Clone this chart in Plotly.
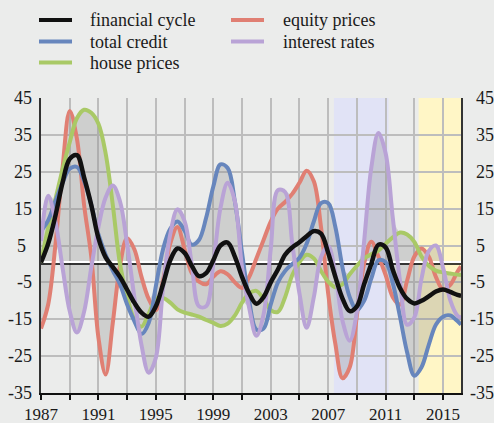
import plotly.graph_objects as go
import numpy as np

years = [1987 + 0.5 * i for i in range(59)] + [2016.25]

financial_cycle = [0.4, 5.5, 13, 22, 28.5, 29.5, 23.5, 16, 7, 1.8,
                   -0.8, -3.5, -7, -10.5, -13.2, -14.3, -11.5, -5.5, 1, 4.2,
                   3, -0.5, -3.3, -2.5, 1, 5, 5.8, 2, -3.5, -8,
                   -10.8, -9, -5, -1.5, 2.5, 4.5, 5.9, 7.5, 8.9, 8.2,
                   3, -3.5, -9.4, -12.8, -11.5, -5.5, 0, 5.2, 4.5, -1.6,
                   -6.5, -9.5, -10.7, -10, -8.8, -7.5, -6.9, -7.6, -8.4, -8.6]

total_credit = [8.9, 11.8, 17, 22, 25.8, 26.3, 22.5, 16, 8, 2.5,
                -1.8, -5.5, -11, -15.5, -19, -16, -6, 4, 9.5, 11.5,
                9, 5.2, 6.5, 12.5, 21, 27, 26, 17, 3, -10,
                -17.8, -17.5, -11, -5, -1.9, 0, 1.7, 5.5, 11.5, 16.5,
                16.5, 10, -1, -9, -12.5, -10, -4, 1, 0.5, -5.2,
                -14.3, -24, -30.3, -28, -22, -16.5, -14.3, -14, -15.5, -16.5]

house_prices = [0.3, 9.8, 17.5, 25.6, 33, 39.5, 41.8, 41, 38, 30,
                16, 0, -9, -15, -17, -13.5, -9.5, -9.2, -10.5, -12.3,
                -13.2, -13.7, -14.3, -15.2, -16, -16.8, -16.2, -14, -10.5, -8,
                -7.3, -9.5, -12.5, -13, -9, -3, 0.5, 2.5, 1.5, -1.9,
                -4.8, -6.3, -5.5, -2.8, -0.5, 1.5, 2.6, 3.6, 5.5, 7.2,
                8.5, 8, 6, 2, -0.5, -1.8, -2.3, -2.6, -2.9, -3]

equity_prices = [-17.5, -11, 5, 26, 41.5, 34, 16, 2, -20, -30,
                 -16, -0.5, 7, 4, -3.5, -9.5, -12.5, -4.5, 5.5, 10,
                 4, -2.5, -4.8, -5.5, -3.5, -2, -2.8, -5, -6.5, -3.5,
                 1.5, 6.5, 11.5, 15, 16.8, 19, 22, 25.3, 22.4, 10,
                 -8, -21.7, -31, -28, -14, 0, 6, 2, -3, -9,
                 -11, -4.5, 2, 4.2, 2, -3.5, -7, -5.7, -2.1, -0.7]

interest_rates = [6.2, 18.5, 11.6, -1, -12.8, -18.6, -13, -1, 10, 18,
                  21.3, 17, 5.3, -9, -22, -29.5, -25.4, -6.4, 8, 14.8,
                  11.6, -0.1, -11.5, -11.5, 0, 15.2, 22, 17, -0.9, -12,
                  -19.5, -13.7, 4, 20, 19.5, 5.5, -8, -17.3, -9, 1.8,
                  4.9, -2.8, -15.5, -20.8, -13, 6, 26, 35.5, 30, 12.5,
                  -4.5, -16.5, -14.5, -4, 3.5, 5, -1, -9.8, -14, -14.5]

y_ticks = [45, 35, 25, 15, 5, -5, -15, -25, -35]
x_tickvals = list(range(1987, 2016, 2))
x_ticktext = [str(v) if (v - 1987) % 4 == 0 else "" for v in x_tickvals]

crisis_period = [2007.4, 2011.2]
recent_period = [2013.3, 2016.25]

BG = "#ebeceb"
FONT = "Liberation Serif, Times New Roman, serif"
TXT = "#1a1a1a"
colors = {
    "financial cycle": "#111111",
    "total credit": "#6786bd",
    "house prices": "#a9c966",
    "equity prices": "#e07f73",
    "interest rates": "#b9a3d6",
}

comps = np.array([total_credit, house_prices, equity_prices, interest_rates])
env_hi = comps.max(axis=0)
env_lo = comps.min(axis=0)

fig = go.Figure()

fig.add_trace(go.Scatter(x=years, y=env_lo, mode="lines",
                         line=dict(width=0, shape="spline", color="rgba(0,0,0,0)"),
                         hoverinfo="skip", showlegend=False))
fig.add_trace(go.Scatter(x=years, y=env_hi, mode="lines", fill="tonexty",
                         fillcolor="rgba(140,140,140,0.30)",
                         line=dict(width=0, shape="spline", color="rgba(0,0,0,0)"),
                         hoverinfo="skip", showlegend=False))

xr = [1987, 2016.25]
fig.add_trace(go.Scatter(x=xr, y=[0.55, 0.55], mode="lines",
                         line=dict(color="white", width=2), hoverinfo="skip", showlegend=False))
fig.add_trace(go.Scatter(x=xr, y=[0, 0], mode="lines",
                         line=dict(color="black", width=1.5), hoverinfo="skip", showlegend=False))

series = [
    ("equity prices", equity_prices, 4),
    ("house prices", house_prices, 4),
    ("total credit", total_credit, 4),
    ("interest rates", interest_rates, 4),
    ("financial cycle", financial_cycle, 4.5),
]
for name, vals, w in series:
    fig.add_trace(go.Scatter(x=years, y=vals, mode="lines", name=name,
                             line=dict(color=colors[name], width=w, shape="spline"),
                             showlegend=False))

shapes = [
    dict(type="rect", xref="x", yref="paper", x0=crisis_period[0], x1=crisis_period[1],
         y0=0, y1=1, fillcolor="#e1e3f6", line=dict(width=0), layer="between"),
    dict(type="rect", xref="x", yref="paper", x0=recent_period[0], x1=recent_period[1],
         y0=0, y1=1, fillcolor="#fff6c6", line=dict(width=0), layer="between"),
]

W, H = 494, 423
ml, mr, mt, mb = 41, 33, 98, 30
pw, ph = W - ml - mr, H - mt - mb


def px2paper_x(p):
    return (p - ml) / pw


def px2paper_y(p):
    return (H - mb - p) / ph


legend_items = [
    ("financial cycle", 39, 88, 20),
    ("total credit", 39, 88, 41.5),
    ("house prices", 39, 88, 62.5),
    ("equity prices", 231, 281, 20),
    ("interest rates", 231, 281, 41.5),
]
annotations = []
for name, lx, tx, ly in legend_items:
    shapes.append(dict(type="line", xref="paper", yref="paper",
                       x0=px2paper_x(lx), x1=px2paper_x(lx + 33),
                       y0=px2paper_y(ly), y1=px2paper_y(ly),
                       line=dict(color=colors[name], width=4)))
    annotations.append(dict(xref="paper", yref="paper", x=px2paper_x(tx), y=px2paper_y(ly),
                            text=name, showarrow=False, xanchor="left", yanchor="middle",
                            font=dict(family=FONT, size=18, color=TXT)))

for v in y_ticks:
    lshift = -13 if v == 5 else -7
    rshift = 13 if v > 0 else 7
    annotations.append(dict(xref="paper", yref="y", x=0, y=v, text=str(v), showarrow=False,
                            xanchor="right", yanchor="middle", xshift=lshift,
                            font=dict(family=FONT, size=18, color=TXT)))
    annotations.append(dict(xref="paper", yref="y", x=1, y=v, text=str(v), showarrow=False,
                            xanchor="left", yanchor="middle", xshift=rshift,
                            font=dict(family=FONT, size=18, color=TXT)))

fig.update_layout(
    width=W, height=H,
    margin=dict(l=ml, r=mr, t=mt, b=mb, pad=0, autoexpand=False),
    paper_bgcolor=BG, plot_bgcolor=BG,
    shapes=shapes, annotations=annotations,
    showlegend=False,
    xaxis=dict(range=xr, tickvals=x_tickvals, ticktext=x_ticktext,
               showgrid=True, gridcolor="#bdbdbd", gridwidth=1.5,
               ticks="outside", ticklen=5, tickwidth=1.5, tickcolor="#111",
               showline=True, linecolor="#111", linewidth=1.5,
               zeroline=False, ticklabelstandoff=0,
               tickfont=dict(family=FONT, size=17, color=TXT)),
    yaxis=dict(range=[-35, 45], tickvals=y_ticks, showticklabels=False,
               showgrid=True, gridcolor="#bdbdbd", gridwidth=1.5,
               showline=True, linecolor="#333", linewidth=1.5, mirror=True,
               zeroline=False, ticks=""),
)

fig.write_html("out.html",
               config={"displayModeBar": False},
               post_script="document.body.style.margin='0';"
                           "document.body.style.overflow='hidden';")
